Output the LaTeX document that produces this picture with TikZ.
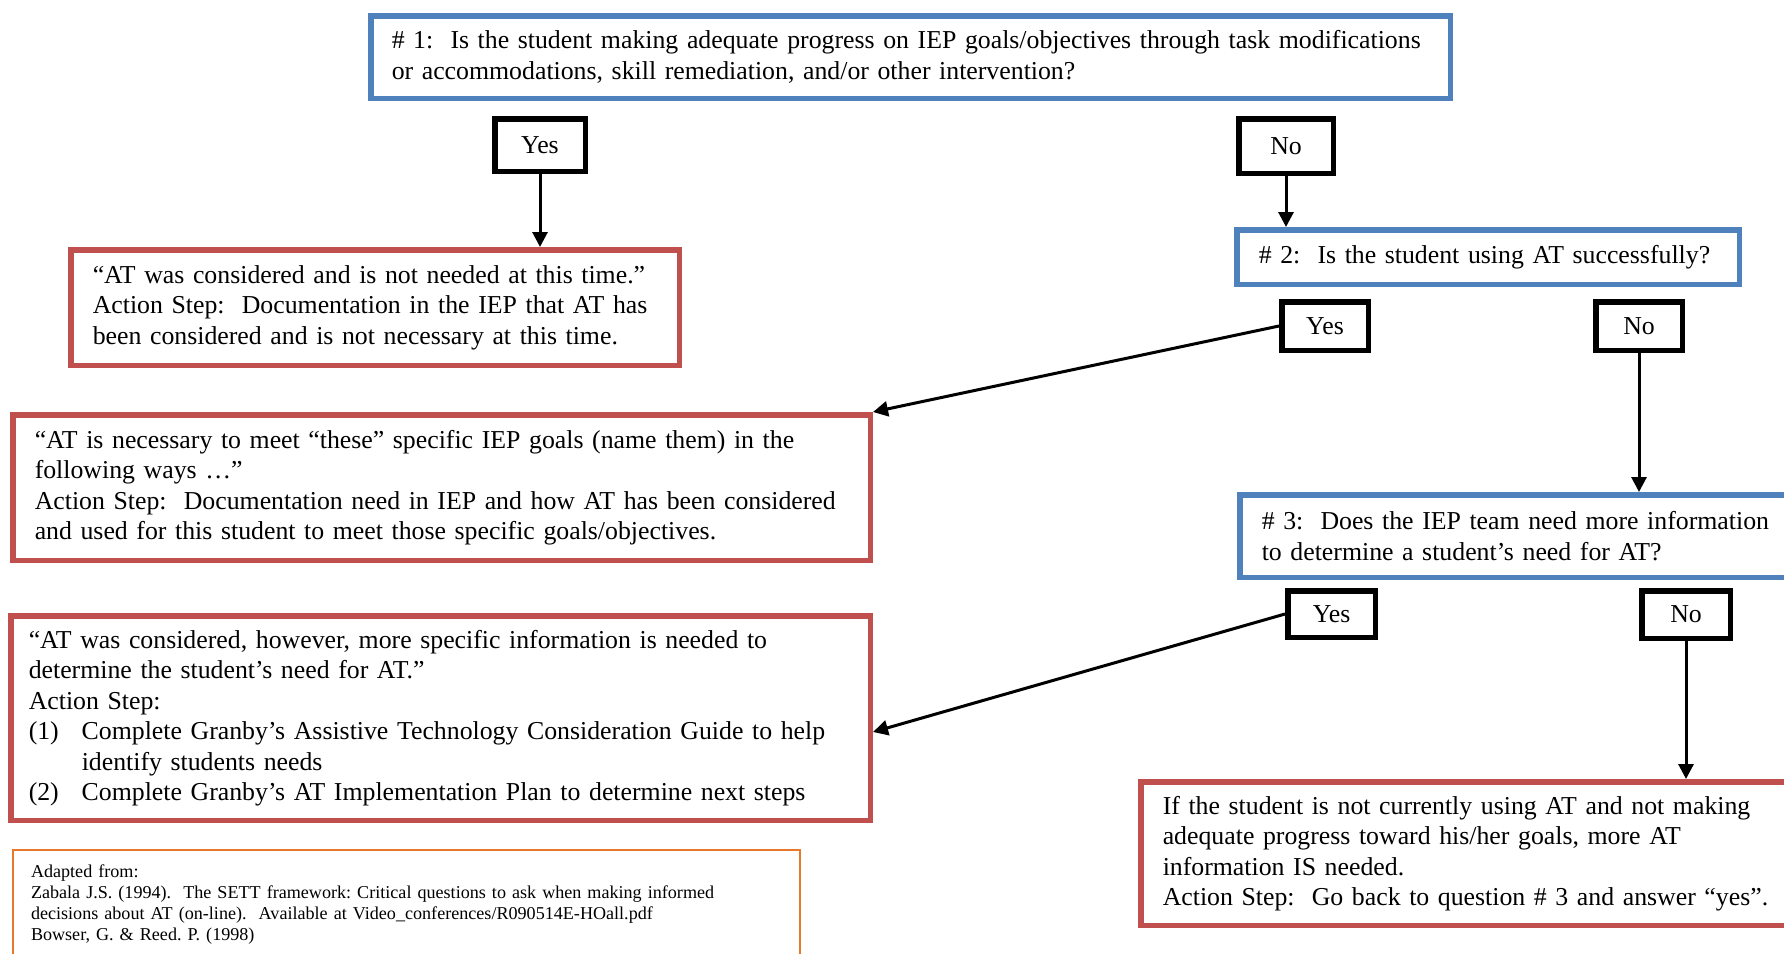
\documentclass[tikz,border=0pt]{standalone}
\usepackage{fontspec}
\setmainfont{Liberation Serif}
\usepackage{xcolor}
\usepackage{tikz}
\usetikzlibrary{arrows.meta}
\definecolor{rammeblaa}{HTML}{4F81BD}
\definecolor{rammeroed}{HTML}{C0504D}
\definecolor{rammeoransje}{HTML}{E8782C}

\begin{document}
\begin{tikzpicture}[x=1pt, y=-1pt, every node/.style={rectangle, align=left, line width=5.5pt, inner xsep=22pt, inner ysep=0pt, font=\fontsize{25.8}{30.5}\selectfont\frenchspacing}, question/.style={draw=rammeblaa, anchor=north west}, outcome/.style={draw=rammeroed, anchor=north west}, answer/.style={draw=black, align=center, inner xsep=0pt, minimum width=87pt, minimum height=48pt}]
        \useasboundingbox (0,0) rectangle (1784,953);
        \clip (0,0) rectangle (1784,953);
        \node[question, text width=1037.5pt, inner xsep=21pt, minimum height=82.5pt] (q1) at (368,13) {\#~1:\ \ Is the student making adequate progress on IEP goals/objectives through task modifications\\or accommodations, skill remediation, and/or other intervention?};
        \node[answer, minimum width=90.5pt, minimum height=52.5pt] (yes1) at (540,145) {Yes};
        \node[answer, minimum width=94.5pt, minimum height=54.5pt] (no1) at (1286,146) {No};
        \node[outcome, text width=564.5pt, minimum height=115.5pt] (notneeded) at (68,247) {“AT was considered and is not needed at this time.”\\Action Step:\ \ Documentation in the IEP that AT has\\been considered and is not necessary at this time.};
        \node[question, text width=458.5pt, minimum height=54.5pt] (q2) at (1234,227) {\#~2:\ \ Is the student using AT successfully?};
        \node[answer, minimum width=86.5pt, minimum height=48.5pt] (yes2) at (1325,326) {Yes};
        \node[answer, minimum width=86.5pt, minimum height=48.5pt] (no2) at (1639,326) {No};
        \node[outcome, text width=813.5pt, minimum height=145.5pt] (needed) at (10,412) {“AT is necessary to meet “these” specific IEP goals (name them) in the\\following ways …”\\Action Step:\ \ Documentation need in IEP and how AT has been considered\\and used for this student to meet those specific goals/objectives.};
        \node[question, text width=531pt, minimum height=82.5pt] (q3) at (1237,492) {\#~3:\ \ Does the IEP team need more information\\to determine a student’s need for AT?};
        \node[answer, minimum width=87.5pt, minimum height=46.5pt] (yes3) at (1331.5,614) {Yes};
        \node[answer, minimum width=88.5pt, minimum height=47.5pt] (no3) at (1686,614.5) {No};
        \node[outcome, text width=823.5pt, inner xsep=18pt, minimum height=204.5pt] (moreinfo) at (8,613) {“AT was considered, however, more specific information is needed to\\determine the student’s need for AT.”\\Action Step:\\\makebox[53pt][l]{(1)}Complete Granby’s Assistive Technology Consideration Guide to help\\\hspace*{53pt}identify students needs\\\makebox[53pt][l]{(2)}Complete Granby’s AT Implementation Plan to determine next steps};
        \node[outcome, text width=628pt, minimum height=143.5pt] (goback) at (1138,779) {If the student is not currently using AT and not making\\adequate progress toward his/her goals, more AT\\information IS needed.\\Action Step:\ \ Go back to question \#~3 and answer “yes”.};
        \node[draw=rammeoransje, anchor=north west, line width=2pt, text width=751pt, inner xsep=18pt, minimum height=109pt, font=\fontsize{18.1}{21}\selectfont\frenchspacing] (source) at (12,849) {Adapted from:\\Zabala J.S. (1994).\ \ The SETT framework: Critical questions to ask when making informed\\decisions about AT (on-line).\ \ Available at Video\_conferences/R090514E-HOall.pdf\\Bowser, G. \& Reed. P. (1998)};
        \draw[->,>={Triangle[width=15pt,length=15pt]},line width=3pt] (yes1.south) -- (yes1.south |- notneeded.north);
        \draw[->,>={Triangle[width=15pt,length=15pt]},line width=3pt] (no1.south) -- (no1.south |- q2.north);
        \draw[->,>={Triangle[width=15pt,length=15pt]},line width=3pt] (yes2.west) -- (needed.north east);
        \draw[->,>={Triangle[width=15pt,length=15pt]},line width=3pt] (no2.south) -- (no2.south |- q3.north);
        \draw[->,>={Triangle[width=15pt,length=15pt]},line width=3pt] (yes3.west) -- ([yshift=-14pt]moreinfo.east);
        \draw[->,>={Triangle[width=15pt,length=15pt]},line width=3pt] (no3.south) -- (no3.south |- goback.north);
    \end{tikzpicture}
\end{document}
